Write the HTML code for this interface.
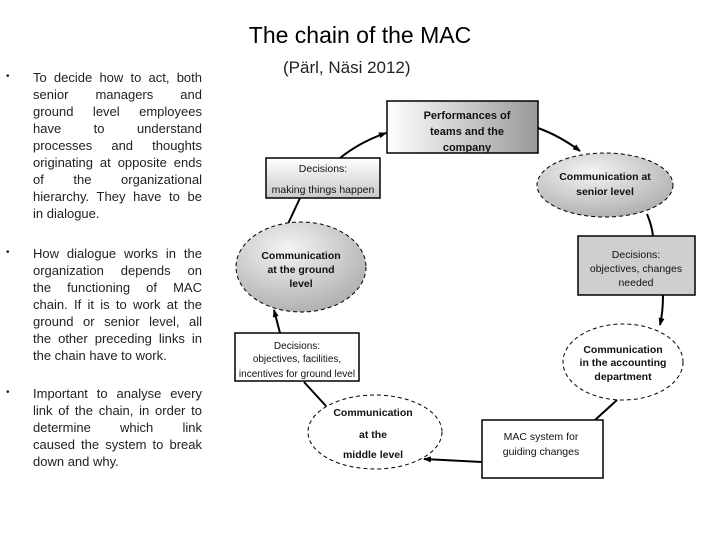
<!DOCTYPE html>
<html><head><meta charset="utf-8"><style>
body{margin:0;width:720px;height:540px;background:#fff;position:relative;overflow:hidden;font-family:"Liberation Sans",sans-serif;}
.t{position:absolute;left:33px;width:169px;font-size:13px;line-height:17px;color:#222;}
.t div{text-align:justify;text-align-last:justify;}
.t div.l{text-align-last:left;}
.b{position:absolute;left:6px;font-size:10px;color:#222;}
</style></head><body>
<div style="position:absolute;left:0;width:720px;top:22px;text-align:center;font-size:23px;padding-left:0">The chain of the MAC</div>
<div style="position:absolute;left:283px;top:58px;font-size:17px;color:#222">(Pärl, Näsi 2012)</div>

<div class="b" style="top:71px">•</div>
<div class="t" style="top:69px">
<div>To decide how to act, both</div><div>senior managers and</div><div>ground level employees</div><div>have to understand</div><div>processes and thoughts</div><div>originating at opposite ends</div><div>of the organizational</div><div>hierarchy. They have to be</div><div class="l">in dialogue.</div></div>

<div class="b" style="top:247px">•</div>
<div class="t" style="top:245px">
<div>How dialogue works in the</div><div>organization depends on</div><div>the functioning of MAC</div><div>chain. If it is to work at the</div><div>ground or senior level, all</div><div>the other preceding links in</div><div class="l">the chain have to work.</div></div>

<div class="b" style="top:387px">•</div>
<div class="t" style="top:385px">
<div>Important to analyse every</div><div>link of the chain, in order to</div><div>determine which link</div><div>caused the system to break</div><div class="l">down and why.</div></div>

<svg width="720" height="540" style="position:absolute;left:0;top:0" font-family="Liberation Sans, sans-serif">
<defs>
<linearGradient id="g1" x1="0" x2="1"><stop offset="0" stop-color="#fff"/><stop offset="1" stop-color="#999"/></linearGradient>
<linearGradient id="g2" x1="0" y1="0" x2="0" y2="1"><stop offset="0" stop-color="#fff"/><stop offset="1" stop-color="#c8c8c8"/></linearGradient>
<radialGradient id="g3" cx="0.4" cy="0.3" r="0.8"><stop offset="0" stop-color="#f4f4f4"/><stop offset="1" stop-color="#a8a8a8"/></radialGradient>
<marker id="a" markerWidth="8" markerHeight="8" refX="7" refY="4" orient="auto" markerUnits="userSpaceOnUse"><path d="M0,1 L8,4 L0,7 Z" fill="#000"/></marker>
</defs>
<g stroke="#000" stroke-width="2" fill="none">
<path d="M340,158 Q360,142 386,133" marker-end="url(#a)"/>
<path d="M300,198 L287,226"/>
<path d="M538,128 Q560,136 580,151" marker-end="url(#a)"/>
<path d="M647,214 Q652,226 653,236"/>
<path d="M663,295 Q663,312 660,325" marker-end="url(#a)"/>
<path d="M617,400 L595,420"/>
<path d="M482,462 L424,459" marker-end="url(#a)"/>
<path d="M326,406 L304,382"/>
<path d="M280,333 L274,310" marker-end="url(#a)"/>
</g>
<rect x="387" y="101" width="151" height="52" fill="url(#g1)" stroke="#000" stroke-width="1.5"/>
<text font-size="11" font-weight="bold" text-anchor="middle" fill="#111"><tspan x="467" y="119">Performances of</tspan><tspan x="467" y="135">teams and the</tspan><tspan x="467" y="151">company</tspan></text>
<rect x="266" y="158" width="114" height="40" fill="url(#g2)" stroke="#000" stroke-width="1.5"/>
<text font-size="10.5" text-anchor="middle" fill="#111"><tspan x="323" y="172">Decisions:</tspan><tspan x="323" y="193">making things happen</tspan></text>
<ellipse cx="605" cy="185" rx="68" ry="32" fill="url(#g3)" stroke="#000" stroke-dasharray="4,3"/>
<text font-size="10.5" font-weight="bold" text-anchor="middle" fill="#111"><tspan x="605" y="180">Communication at</tspan><tspan x="605" y="195">senior level</tspan></text>
<rect x="578" y="236" width="117" height="59" fill="#cfcfcf" stroke="#000" stroke-width="1.5"/>
<text font-size="10.5" text-anchor="middle" fill="#111"><tspan x="636" y="258">Decisions:</tspan><tspan x="636" y="272">objectives,  changes</tspan><tspan x="636" y="286">needed</tspan></text>
<ellipse cx="301" cy="267" rx="65" ry="45" fill="url(#g3)" stroke="#000" stroke-dasharray="4,3"/>
<text font-size="10.5" font-weight="bold" text-anchor="middle" fill="#111"><tspan x="301" y="259">Communication</tspan><tspan x="301" y="273">at the ground</tspan><tspan x="301" y="287">level</tspan></text>
<rect x="235" y="333" width="124" height="48" fill="#fff" stroke="#000" stroke-width="1.5"/>
<text font-size="10" text-anchor="middle" fill="#111"><tspan x="297" y="349">Decisions:</tspan><tspan x="297" y="362">objectives, facilities,</tspan><tspan x="297" y="377">incentives for ground level</tspan></text>
<ellipse cx="623" cy="362" rx="60" ry="38" fill="#fff" stroke="#000" stroke-dasharray="4,3"/>
<text font-size="10.5" font-weight="bold" text-anchor="middle" fill="#111"><tspan x="623" y="353">Communication</tspan><tspan x="623" y="366">in the accounting</tspan><tspan x="623" y="380">department</tspan></text>
<rect x="482" y="420" width="121" height="58" fill="#fff" stroke="#000" stroke-width="1.5"/>
<text font-size="10.5" text-anchor="middle" fill="#111"><tspan x="541" y="440">MAC system for</tspan><tspan x="541" y="455">guiding changes</tspan></text>
<ellipse cx="375" cy="432" rx="67" ry="37" fill="#fff" stroke="#000" stroke-dasharray="4,3"/>
<text font-size="10.5" font-weight="bold" text-anchor="middle" fill="#111"><tspan x="373" y="416">Communication</tspan><tspan x="373" y="438">at the</tspan><tspan x="373" y="458">middle level</tspan></text>
</svg>
</body></html>
